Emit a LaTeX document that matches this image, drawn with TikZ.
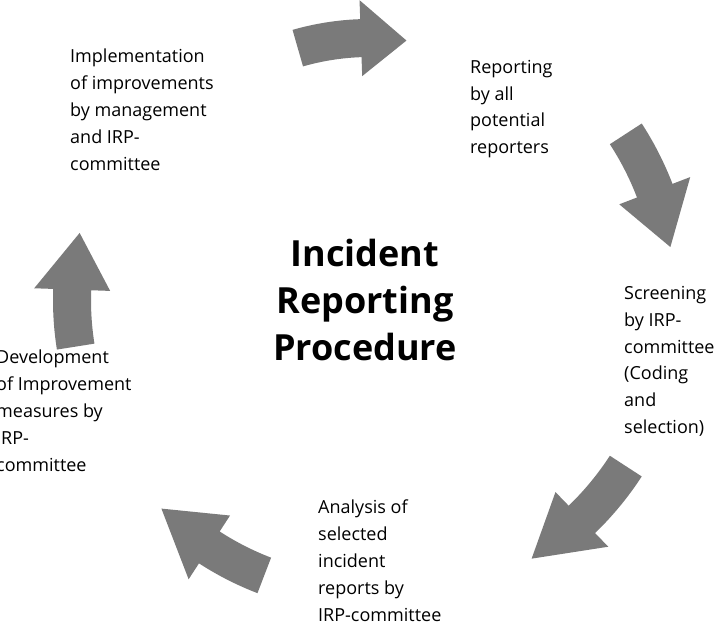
\documentclass[tikz,border=0pt]{standalone}
\usepackage{fontspec}
\setmainfont{Open Sans}
\usetikzlibrary{calc}
\definecolor{arrowgray}{HTML}{7A7A7A}
\tikzset{
	steptext/.style = {anchor = north west, align = left, inner sep = 0pt, font = \fontsize{18}{26.8}\selectfont},
	titletext/.style = {align = center, inner sep = 0pt, font = \fontsize{36}{47}\selectfont\bfseries}
}
% fat curved arrow: radius, start angle, head base angle, tip angle
\newcommand{\cycarrow}[4]{%
	\fill[arrowgray] (C) ++(#2:{#1+19}) arc[start angle = #2, end angle = #3, radius = {#1+19}]
		-- ($(C)+(#3:{#1+38})$) -- ($(C)+(#4:#1)$) -- ($(C)+(#3:{#1-38})$)
		-- ($(C)+(#3:{#1-19})$) arc[start angle = #3, end angle = #2, radius = {#1-19}] -- cycle;
}
\begin{document}
\begin{tikzpicture}[x = 1pt, y = 1pt]
	\useasboundingbox (0,0) rectangle (720,636);
	\clip (0,0) rectangle (720,636);
	\coordinate (C) at (370,336);
	
	\cycarrow{262}{106}{92}{82}
	\cycarrow{305}{33}{21}{10}
	\cycarrow{305}{-33}{-46}{-58}
	\cycarrow{295}{-111}{-123}{-135}
	\cycarrow{298}{-171}{-182}{-193}
	
	\node[titletext] (title) at (365,336) {Incident\\Reporting\\Procedure};
	
	\node[steptext] (report) at (470,576) {Reporting\\by all\\potential\\reporters};
	\node[steptext] (screen) at (624,350) {Screening\\by IRP-\\committee\\(Coding\\and\\selection)};
	\node[steptext] (analysis) at (318,136) {Analysis of\\selected\\incident\\reports by\\IRP-committee};
	\node[steptext] (develop) at (-4,286) {Development\\of Improvement\\measures by\\IRP-\\committee};
	\node[steptext] (implement) at (70,587) {Implementation\\of improvements\\by management\\and IRP-\\committee};
\end{tikzpicture}
\end{document}
